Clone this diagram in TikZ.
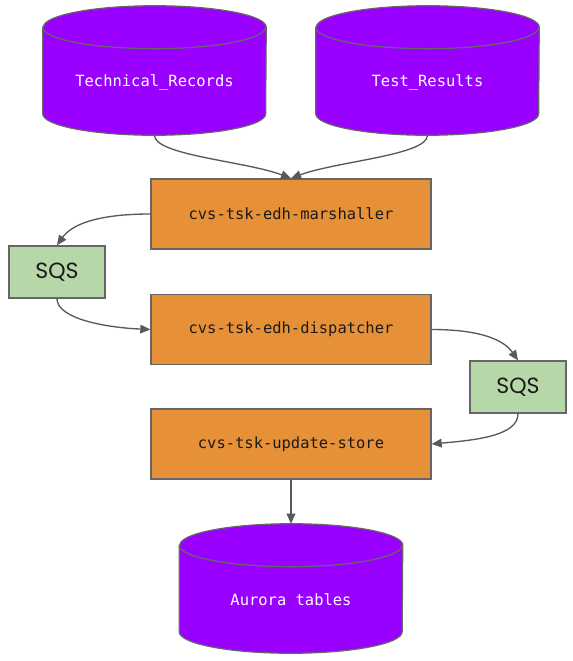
\documentclass[tikz,border=0pt]{standalone}
\usepackage{fontspec}
\setmonofont{DejaVu Sans Mono}
\newfontfamily\sqsfont{Poppins}
\usetikzlibrary{arrows.meta}
\definecolor{dbpurple}{HTML}{9900FF}
\definecolor{lambdaorange}{HTML}{E69138}
\definecolor{sqsgreen}{HTML}{B6D7A8}
\definecolor{edgegray}{HTML}{595959}
\definecolor{bordergray}{HTML}{666666}
\definecolor{txtblack}{HTML}{1A1A1A}
\tikzset{
  x=0.75pt, y=-0.75pt,
  lambdabox/.style={draw=bordergray, line width=1pt, fill=lambdaorange,
    minimum width=210pt, minimum height=52.5pt, inner sep=0pt,
    font=\ttfamily\fontsize{11.6}{13}\selectfont, text=txtblack},
  sqsbox/.style={draw=bordergray, line width=1pt, fill=sqsgreen,
    minimum width=72pt, minimum height=39pt, inner sep=0pt,
    font=\sqsfont\fontsize{16.5}{18}\selectfont, text=txtblack},
  dbholder/.style={minimum width=167.25pt, minimum height=96.75pt, inner sep=0pt},
  dblabel/.style={font=\ttfamily\fontsize{11.6}{13}\selectfont, text=white, inner sep=0pt},
  cylbody/.style={draw=bordergray, line width=0.9pt, fill=dbpurple},
  cyltop/.style={draw=bordergray, line width=0.9pt},
  flow/.style={draw=edgegray, line width=1pt, -{Triangle[length=7.5pt,width=6.5pt]}},
}
\newcommand{\drawcyl}[1]{%
  \path[cylbody] ([yshift=-16.1pt]#1.north west) -- ([yshift=16.1pt]#1.south west)
    arc[start angle=180, end angle=360, x radius=83.6pt, y radius=16.1pt]
    -- ([yshift=-16.1pt]#1.north east)
    arc[start angle=0, end angle=180, x radius=83.6pt, y radius=16.1pt] -- cycle;
  \path[cyltop] ([yshift=-16.1pt]#1.north west)
    arc[start angle=180, end angle=360, x radius=83.6pt, y radius=16.1pt];
}
\begin{document}
\begin{tikzpicture}
\useasboundingbox (0,0) rectangle (573,661);

% databases
\node[dbholder] (tr) at (154.5,70.5) {};
\node[dbholder] (ts) at (427.5,70.5) {};
\node[dbholder] (au) at (291,588.5) {};
\drawcyl{tr}
\drawcyl{ts}
\drawcyl{au}
\node[dblabel] (trl) at (154.5,82) {Technical\_Records};
\node[dblabel] (tsl) at (427.5,82) {Test\_Results};
\node[dblabel] (aul) at (291,600) {Aurora tables};

% lambdas
\node[lambdabox] (m) at (291,214) {cvs-tsk-edh-marshaller};
\node[lambdabox] (d) at (291,329.5) {cvs-tsk-edh-dispatcher};
\node[lambdabox] (u) at (291,444) {cvs-tsk-update-store};

% queues
\node[sqsbox] (q1) at (57,272) {SQS};
\node[sqsbox] (q2) at (518,387) {SQS};

% connectors
\draw[flow] (tr.south) .. controls +(0,20) and +(-45,-17) .. (m.north);
\draw[flow] (ts.south) .. controls +(0,20) and +(45,-17) .. (m.north);
\draw[flow] (m.west) .. controls +(-55,0) and +(14,-20) .. (q1.north);
\draw[flow] (q1.south) .. controls +(0,20) and +(-45,-2) .. (d.west);
\draw[flow] (d.east) .. controls +(50,0) and +(-14,-20) .. (q2.north);
\draw[flow] (q2.south) .. controls +(0,22) and +(45,-4) .. (u.east);
\draw[flow] (u.south) -- (au.north);
\end{tikzpicture}
\end{document}
